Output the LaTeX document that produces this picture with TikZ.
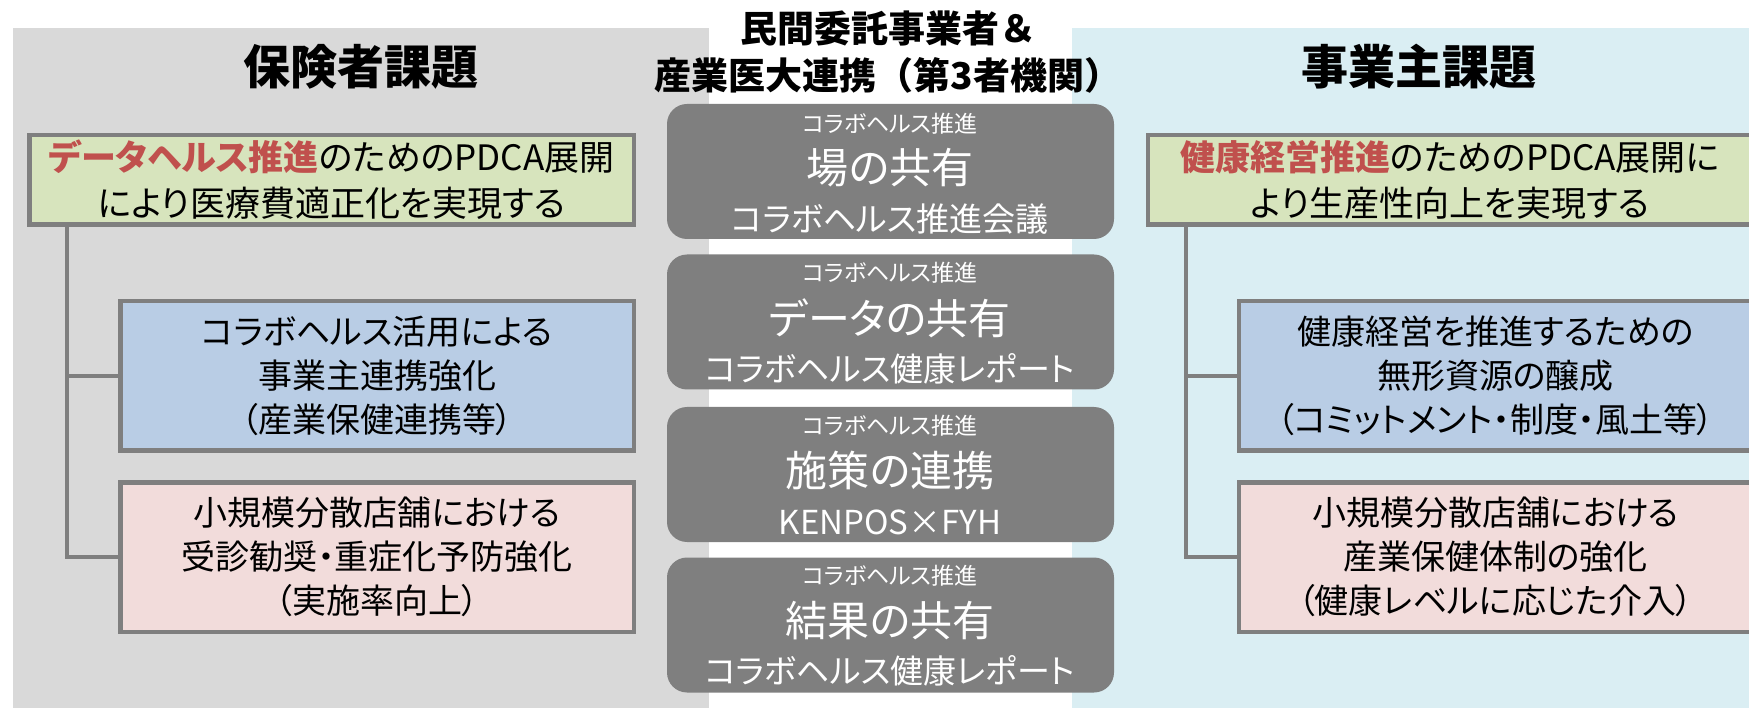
\documentclass[tikz,border=0pt]{standalone}
\usepackage{fontspec}
\setmainfont{Noto Sans CJK JP}[RawFeature=+palt]
\newfontfamily\zenkaku{Noto Sans CJK JP}
\definecolor{hai}{HTML}{D9D9D9}
\definecolor{mizu}{HTML}{DAEEF3}
\definecolor{midori}{HTML}{D7E4BD}
\definecolor{ao}{HTML}{B9CDE5}
\definecolor{momo}{HTML}{F2DCDB}
\definecolor{waku}{HTML}{7F7F7F}
\definecolor{aka}{HTML}{C0504D}
\tikzset{
  midashi/.style={font=\bfseries\fontsize{47}{56}\selectfont,inner sep=0pt},
  midashi2/.style={font=\zenkaku\bfseries\fontsize{37}{47}\selectfont,inner sep=0pt,align=center},
  kadai/.style={draw=waku,line width=4.5pt,align=center,inner sep=0pt,
    font=\fontsize{34}{44}\selectfont},
  kadai1/.style={kadai,fill=midori,minimum width=604.5pt,minimum height=89.5pt,
    font=\fontsize{35}{46}\selectfont},
  kadai2/.style={kadai,fill=ao,minimum width=513.5pt,minimum height=149.5pt},
  kadai3/.style={kadai,fill=momo,minimum width=513.5pt,minimum height=149.5pt},
  eda/.style={draw=waku,line width=4pt},
  kyoyu/.style={fill=waku,rounded corners=20pt,minimum width=447pt,minimum height=135pt,inner sep=0pt},
  kyoyu1/.style={text=white,inner sep=0pt,font=\fontsize{23}{27}\selectfont},
  kyoyu2/.style={text=white,inner sep=0pt,font=\fontsize{42}{50}\selectfont},
  kyoyu3/.style={text=white,inner sep=0pt,font=\fontsize{33}{40}\selectfont}
}
\begin{document}
\begin{tikzpicture}[x=1pt,y=-1pt]
  \useasboundingbox (0,0) rectangle (1749,708);
  % backgrounds
  \fill[hai] (13,28) rectangle (709,708);
  \fill[mizu] (1072,28) rectangle (1749,708);

  % titles
  \node[midashi] (hoken) at (361,67) {保険者課題};
  \node[midashi] (jigyo) at (1419,67) {事業主課題};
  \node[midashi2] (itaku) at (888,52) {民間委託事業者＆\\産業医大連携（第3者機関）};

  % left column
  \node[kadai1] (g1) at (331.5,180)
    {{\bfseries\color{aka}データヘルス推進}のためのPDCA展開\\により医療費適正化を実現する};
  \node[kadai2] (b1) at (377,376)
    {コラボヘルス活用による\\事業主連携強化\\（産業保健連携等）};
  \node[kadai3] (p1) at (377,557)
    {小規模分散店舗における\\受診勧奨・重症化予防強化\\（実施率向上）};
  \coordinate (e1) at (67,0);
  \draw[eda] (g1.south -| e1) |- (b1.west);
  \draw[eda] (g1.south -| e1) |- (p1.west);

  % right column
  \node[kadai1] (g2) at (1450,180)
    {{\bfseries\color{aka}健康経営推進}のためのPDCA展開に\\より生産性向上を実現する};
  \node[kadai2] (b2) at (1495.5,376)
    {健康経営を推進するための\\無形資源の醸成\\（コミットメント・制度・風土等）};
  \node[kadai3] (p2) at (1495.5,557)
    {小規模分散店舗における\\産業保健体制の強化\\（健康レベルに応じた介入）};
  \coordinate (e2) at (1186,0);
  \draw[eda] (g2.south -| e2) |- (b2.west);
  \draw[eda] (g2.south -| e2) |- (p2.west);

  % middle column
  \node[kyoyu] (s1) at (890.5,171.5) {};
  \node[kyoyu1] (s1a) at (890,124) {コラボヘルス推進};
  \node[kyoyu2] (s1b) at (890,168) {場の共有};
  \node[kyoyu3] (s1c) at (890,219) {コラボヘルス推進会議};

  \node[kyoyu] (s2) at (890.5,322) {};
  \node[kyoyu1] (s2a) at (890,273) {コラボヘルス推進};
  \node[kyoyu2] (s2b) at (890,318) {データの共有};
  \node[kyoyu3] (s2c) at (890,369) {コラボヘルス健康レポート};

  \node[kyoyu] (s3) at (890.5,474.5) {};
  \node[kyoyu1] (s3a) at (890,426) {コラボヘルス推進};
  \node[kyoyu2] (s3b) at (890,471) {施策の連携};
  \node[kyoyu3] (s3c) at (890,522) {KENPOS×FYH};

  \node[kyoyu] (s4) at (890.5,625) {};
  \node[kyoyu1] (s4a) at (890,576) {コラボヘルス推進};
  \node[kyoyu2] (s4b) at (890,621) {結果の共有};
  \node[kyoyu3] (s4c) at (890,671) {コラボヘルス健康レポート};
\end{tikzpicture}
\end{document}
